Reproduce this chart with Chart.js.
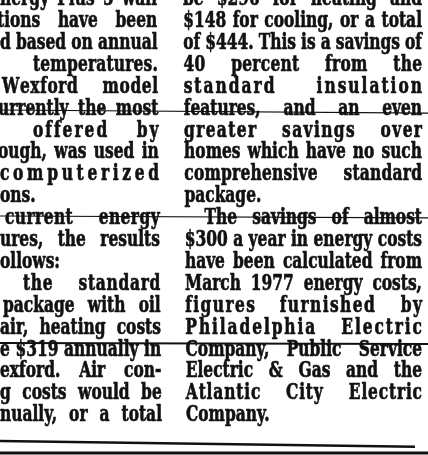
<!DOCTYPE html>
<html>
<head>
<meta charset="utf-8">
<script src="https://cdn.jsdelivr.net/npm/chart.js@4.4.1/dist/chart.umd.min.js"></script>
<style>
    html, body { margin: 0; padding: 0; background: #ffffff; }
    #wrap { position: relative; width: 428px; height: 455px; overflow: hidden; }
</style>
</head>
<body>
<div id="wrap"><canvas id="recorte"></canvas></div>
<script>
// TEXTO DEL RECORTE - una entrada por renglón (columna izquierda cortada por el borde)
var leftLines = [
    "nergy Plus 5 wall",
    "tions have been",
    "d based on annual",
    "temperatures.",
    "Wexford model",
    "urrently the most",
    "offered by",
    "ough, was used in",
    "computerized",
    "ons.",
    "current energy",
    "ures, the results",
    "ollows:",
    "the standard",
    "package with oil",
    "air, heating costs",
    "e $319 annually in",
    "exford. Air con-",
    "g costs would be",
    "nually, or a total"
];
var rightLines = [
    "be $296 for heating and",
    "$148 for cooling, or a total",
    "of $444. This is a savings of",
    "40 percent from the",
    "standard insulation",
    "features, and an even",
    "greater savings over",
    "homes which have no such",
    "comprehensive standard",
    "package.",
    "The savings of almost",
    "$300 a year in energy costs",
    "have been calculated from",
    "March 1977 energy costs,",
    "figures furnished by",
    "Philadelphia Electric",
    "Company, Public Service",
    "Electric & Gas and the",
    "Atlantic City Electric",
    "Company."
];
// renglones que cierran párrafo (no se justifican)
var leftParaEnd = [9, 12];
var rightParaEnd = [9, 19];

// Rayas del papel (en renglones): inicio izquierda, final derecha
var ruleFrom = [4.79, 9.63, 15.43, 19.9, 20.45];
var ruleTo = [4.93, 9.72, 15.47, 20.17, 20.45];

// MAQUETA (px) - fuera de los datos
var leftStart = [0, -3, 0, 33, 2, -2, 33, -2, 0, 0, 5, 0, 0, 23, 3, 0, 0, 0, 0, 0];
var rightIndent = { 10: 20 };
var ruleEnd = [428, 428, 428, 415, 428];
var ruleWidth = [1.2, 1.2, 2, 2.5, 3];
var tinta = "#111111";
var fuente = "bold 22px 'DejaVu Serif'";
var huecoMax = 26;      // a partir de aquí se espacian también las letras
var letraMax = 2;

// Dibuja una palabra comprimida con espaciado entre letras "ls"
function palabra(ctx, txt, x, y, sx, ls) {
    var letras = ls ? txt.split("") : [txt];
    letras.forEach(function (c) {
        ctx.save();
        ctx.translate(x, y);
        ctx.scale(sx, 1);
        ctx.strokeText(c, 0, 0);   // tinta corrida del periódico
        ctx.fillText(c, 0, 0);
        ctx.restore();
        x += ctx.measureText(c).width * sx + (ls || 0);
    });
}

function ancho(ctx, w, sx, ls) {
    return ctx.measureText(w).width * sx + ls * (w.length - 1);
}

// Dibuja un renglón justificado entre x0 y x1
function renglon(ctx, txt, x0, x1, y, justificar, sx) {
    var words = txt.split(" ");
    var suma = 0, letras = 0, ls = 0, hueco, i, x = x0;
    words.forEach(function (w) {
        suma += ancho(ctx, w, sx, 0);
        letras += w.length - 1;
    });
    if (!justificar) {
        hueco = ctx.measureText(" ").width * sx;
    } else if (words.length === 1) {
        // una sola palabra: se reparte entre letras
        ls = (x1 - x0 - suma) / letras;
        hueco = 0;
    } else {
        hueco = (x1 - x0 - suma) / (words.length - 1);
        if (hueco > huecoMax && letras > 0) {
            ls = Math.min(letraMax, (hueco - huecoMax) * (words.length - 1) / letras);
            hueco = (x1 - x0 - suma - ls * letras) / (words.length - 1);
        }
    }
    for (i = 0; i < words.length; i += 1) {
        palabra(ctx, words[i], x, y, sx, ls);
        x += ancho(ctx, words[i], sx, ls) + hueco;
    }
}

var textoPlugin = {
    id: "texto",
    beforeDatasetsDraw: function (chart) {
        var ctx = chart.ctx;
        var xs = chart.scales.x;
        var ys = chart.scales.y;
        ctx.save();
        ctx.font = fuente;
        ctx.fillStyle = tinta;
        ctx.strokeStyle = tinta;
        ctx.lineWidth = 0.7;
        ctx.lineJoin = "round";
        ctx.textBaseline = "alphabetic";
        // compresión horizontal para que el renglón ajustado llene la columna
        var sx = 237 / ctx.measureText("$300 a year in energy costs").width;
        var n = leftLines.length - 1;
        leftLines.forEach(function (t, i) {
            var y = ys.getPixelForValue(i);
            var x1 = xs.getPixelForValue(157 + 5 * i / n);
            renglon(ctx, t, xs.getPixelForValue(leftStart[i]), x1, y, leftParaEnd.indexOf(i) < 0, sx);
        });
        rightLines.forEach(function (t, i) {
            var y = ys.getPixelForValue(i);
            var x0 = 183 + 3 * i / n + (rightIndent[i] || 0);
            renglon(ctx, t, xs.getPixelForValue(x0), xs.getPixelForValue(422), y, rightParaEnd.indexOf(i) < 0, sx);
        });
        ctx.restore();
    }
};

function cargaRecorte() {
    var datasets = ruleFrom.map(function (v, i) {
        return {
            data: [{ x: 0, y: v }, { x: ruleEnd[i], y: ruleTo[i] }],
            borderColor: tinta,
            borderWidth: ruleWidth[i],
            pointRadius: 0,
            tension: 0
        };
    });

    var config = {
        type: "line",
        data: { datasets: datasets },
        options: {
            responsive: true,
            maintainAspectRatio: false,
            animation: false,
            layout: { padding: 0 },
            plugins: {
                legend: { display: false },
                tooltip: { enabled: false }
            },
            scales: {
                x: { type: "linear", min: 0, max: 428, display: false },
                // un renglón = 21.9 px, línea base del renglón 0 en y=5
                y: { type: "linear", min: -5.1 / 21.9, max: 449.9 / 21.9, reverse: true, display: false }
            }
        },
        plugins: [textoPlugin]
    };

    new Chart(document.getElementById("recorte").getContext("2d"), config);
}

cargaRecorte();
</script>
</body>
</html>
